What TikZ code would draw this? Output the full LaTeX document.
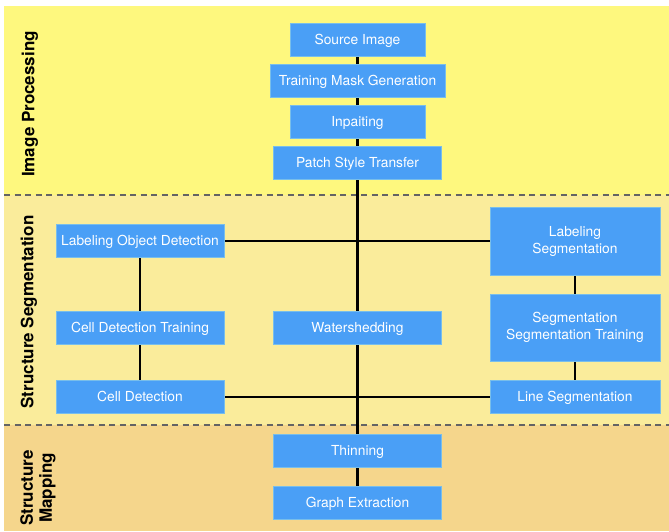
\documentclass[tikz,border=0pt]{standalone}
\usepackage{fontspec}
\setmainfont{TeX Gyre Heros}
\definecolor{boxblue}{RGB}{74,159,246}
\definecolor{boxedge}{RGB}{120,190,235}
\definecolor{bandA}{RGB}{254,248,126}
\definecolor{bandB}{RGB}{250,236,155}
\definecolor{bandC}{RGB}{245,214,140}
\definecolor{sepgray}{RGB}{100,100,100}
\pgfdeclarelayer{bands}
\pgfdeclarelayer{edges}
\pgfsetlayers{bands,edges,main}
\begin{document}
\begin{tikzpicture}[x=1pt,y=-1pt,
  box/.style={fill=boxblue, draw=boxedge, line width=0.6pt, text=white,
    font=\fontsize{13.8}{17}\selectfont, inner sep=0pt, align=center,
    minimum height=33pt},
  onebox/.style={box, text height=9.9pt, text depth=0pt},
  link/.style={line width=2.2pt, black},
  sect/.style={font=\fontsize{17}{19}\selectfont\bfseries, rotate=90, align=center},
  sepline/.style={dash pattern=on 6pt off 4.5pt, line width=2.5pt, sepgray}]
\useasboundingbox (0,0) rectangle (669,531);

% nodes
\node[onebox, minimum width=135pt] (src) at (357.5,39.5) {Source Image};
\node[onebox, minimum width=175pt] (tmg) at (357.5,80.5) {Training Mask Generation};
\node[onebox, minimum width=135pt] (inp) at (357.5,121.5) {Inpaiting};
\node[onebox, minimum width=168pt] (pst) at (357.5,163) {Patch Style Transfer};
\node[onebox, minimum width=168pt] (lod) at (140,241) {Labeling Object Detection};
\node[box, minimum width=170pt, minimum height=68pt] (lseg) at (575,241) {Labeling\\Segmentation};
\node[onebox, minimum width=168pt] (cdt) at (140,327.5) {Cell Detection Training};
\node[onebox, minimum width=168pt] (ws) at (357.5,327.5) {Watershedding};
\node[box, minimum width=170pt, minimum height=67pt] (sst) at (575,327.5) {Segmentation\\Segmentation Training};
\node[onebox, minimum width=168pt] (cd) at (140,397) {Cell Detection};
\node[onebox, minimum width=170pt] (lins) at (575,397) {Line Segmentation};
\node[onebox, minimum width=168pt] (thin) at (357.5,450.5) {Thinning};
\node[onebox, minimum width=168pt] (graph) at (357.5,502.5) {Graph Extraction};

% section labels
\node[sect] (l1) at (30,104) {Image Processing};
\node[sect] (l2) at (29,312) {Structure Segmentation};
\node[sect] (l3) at (38,488) {Structure\\Mapping};

% bands
\begin{pgfonlayer}{bands}
  \fill[bandA] (4,6) rectangle (669,195);
  \fill[bandB] (4,195) rectangle (669,425);
  \fill[bandC] (4,425) rectangle (669,531);
  \draw[sepline] (4,195) -- (669,195);
  \draw[sepline] (4,425) -- (669,425);
\end{pgfonlayer}

% connectors
\begin{pgfonlayer}{edges}
  \draw[link] (src) -- (tmg);
  \draw[link] (tmg) -- (inp);
  \draw[link] (inp) -- (pst);
  \draw[link] (pst) -- (ws);
  \draw[link] (ws) -- (thin);
  \draw[link] (thin) -- (graph);
  \draw[link] (lod) -- (lseg);
  \draw[link] (cd) -- (lins);
  \draw[link] (lod) -- (cdt);
  \draw[link] (cdt) -- (cd);
  \draw[link] (lseg) -- (sst);
  \draw[link] (sst) -- (lins);
\end{pgfonlayer}
\end{tikzpicture}
\end{document}
